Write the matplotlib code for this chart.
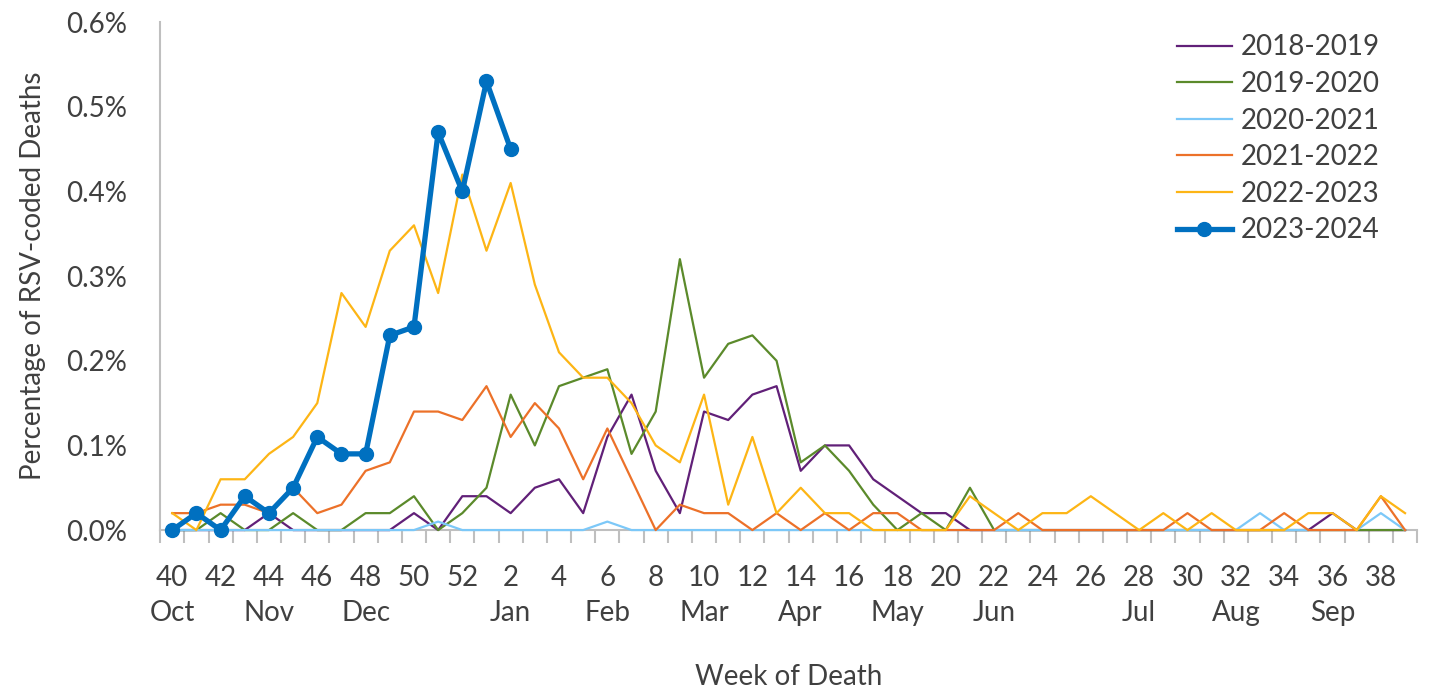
import matplotlib
matplotlib.use("Agg")
import matplotlib.pyplot as plt
from matplotlib.ticker import FuncFormatter, FixedLocator

# неделя смерти: 40..52, затем 1..39
weeks = list(range(40, 53)) + list(range(1, 40))

# процент смертей с кодом RSV по сезонам
s2018_2019 = [0, 0, 0, 0, 0.02, 0, 0, 0, 0, 0, 0.02, 0, 0.04,
              0.04, 0.02, 0.05, 0.06, 0.02, 0.11, 0.16, 0.07, 0.02, 0.14, 0.13, 0.16, 0.17, 0.07,
              0.10, 0.10, 0.06, 0.04, 0.02, 0.02, 0, 0, 0, 0, 0, 0, 0, 0, 0, 0,
              0, 0, 0, 0, 0, 0.02, 0, 0, 0]
s2019_2020 = [0, 0, 0.02, 0, 0, 0.02, 0, 0, 0.02, 0.02, 0.04, 0, 0.02,
              0.05, 0.16, 0.10, 0.17, 0.18, 0.19, 0.09, 0.14, 0.32, 0.18, 0.22, 0.23, 0.20, 0.08,
              0.10, 0.07, 0.03, 0, 0.02, 0, 0.05, 0, 0, 0, 0, 0, 0, 0, 0, 0,
              0, 0, 0, 0, 0, 0, 0, 0, 0]
s2020_2021 = [0, 0, 0, 0, 0, 0, 0, 0, 0, 0, 0, 0.01, 0,
              0, 0, 0, 0, 0, 0.01, 0, 0, 0, 0, 0, 0, 0, 0,
              0, 0, 0, 0, 0, 0, 0, 0, 0, 0, 0, 0, 0, 0, 0, 0,
              0, 0, 0.02, 0, 0, 0, 0, 0.02, 0]
s2021_2022 = [0.02, 0.02, 0.03, 0.03, 0.02, 0.05, 0.02, 0.03, 0.07, 0.08, 0.14, 0.14, 0.13,
              0.17, 0.11, 0.15, 0.12, 0.06, 0.12, 0.06, 0, 0.03, 0.02, 0.02, 0, 0.02, 0,
              0.02, 0, 0.02, 0.02, 0, 0, 0, 0, 0.02, 0, 0, 0, 0, 0, 0, 0.02,
              0, 0, 0, 0.02, 0, 0, 0, 0.04, 0]
s2022_2023 = [0.02, 0, 0.06, 0.06, 0.09, 0.11, 0.15, 0.28, 0.24, 0.33, 0.36, 0.28, 0.42,
              0.33, 0.41, 0.29, 0.21, 0.18, 0.18, 0.15, 0.10, 0.08, 0.16, 0.03, 0.11, 0.02, 0.05,
              0.02, 0.02, 0, 0, 0, 0, 0.04, 0.02, 0, 0.02, 0.02, 0.04, 0.02, 0, 0.02, 0,
              0.02, 0, 0, 0, 0.02, 0.02, 0, 0.04, 0.02]
s2023_2024 = [0, 0.02, 0, 0.04, 0.02, 0.05, 0.11, 0.09, 0.09, 0.23, 0.24, 0.47, 0.40,
              0.53, 0.45]

tick_weeks = weeks[::2]
tick_months = {40: "Oct", 44: "Nov", 48: "Dec", 2: "Jan", 6: "Feb", 10: "Mar",
               14: "Apr", 18: "May", 22: "Jun", 28: "Jul", 32: "Aug", 36: "Sep"}

plt.rcParams["font.family"] = ["Lato", "DejaVu Sans"]
text_color = "#404040"
fs = 20

fig = plt.figure(figsize=(14.3, 6.92), dpi=100)
ax = fig.add_axes([0.112, 0.234, 0.879, 0.734])

x = list(range(len(weeks)))
series = [
    (s2018_2019, "#612078", "2018-2019"),
    (s2019_2020, "#5B8A2B", "2019-2020"),
    (s2020_2021, "#7CC8F8", "2020-2021"),
    (s2021_2022, "#EC7129", "2021-2022"),
    (s2022_2023, "#FDB515", "2022-2023"),
]
for vals, col, lab in series:
    ax.plot(x, vals, color=col, lw=1.6, label=lab, clip_on=False, zorder=3)
ax.plot(x[:len(s2023_2024)], s2023_2024, color="#0070C0", lw=3.8,
        marker="o", ms=10, label="2023-2024", clip_on=False, zorder=4)

ax.set_xlim(-0.5, len(weeks) - 0.5)
ax.set_ylim(0, 0.6)
ax.set_yticks([0, 0.1, 0.2, 0.3, 0.4, 0.5, 0.6])
ax.yaxis.set_major_formatter(FuncFormatter(lambda v, p: f"{v:.1f}%"))

ax.set_xticks([weeks.index(w) for w in tick_weeks])
ax.set_xticklabels([f"{w}\n{tick_months.get(w, '')}" for w in tick_weeks],
                   linespacing=1.45)
ax.xaxis.set_minor_locator(FixedLocator([i - 0.5 for i in range(len(weeks) + 1)]))

ax.tick_params(axis="x", which="major", length=0, pad=25, labelsize=fs, labelcolor=text_color)
ax.tick_params(axis="x", which="minor", length=9, width=1.5, color="#BFBFBF")
ax.tick_params(axis="y", length=0, pad=24, labelsize=fs, labelcolor=text_color)

for side in ["top", "right"]:
    ax.spines[side].set_visible(False)
for side in ["left", "bottom"]:
    ax.spines[side].set_color("#BFBFBF")
    ax.spines[side].set_linewidth(1.5)
    ax.spines[side].set_zorder(1)

ax.set_ylabel("Percentage of RSV-coded Deaths", fontsize=fs, color=text_color, labelpad=14)
ax.set_xlabel("Week of Death", fontsize=fs, color=text_color, labelpad=27)

leg = ax.legend(loc="upper right", bbox_to_anchor=(0.99, 1.025), frameon=False,
                fontsize=fs, handlelength=2.0, labelspacing=0.38, handletextpad=0.3)
for t in leg.get_texts():
    t.set_color(text_color)

fig.savefig("out.png", dpi=100)
